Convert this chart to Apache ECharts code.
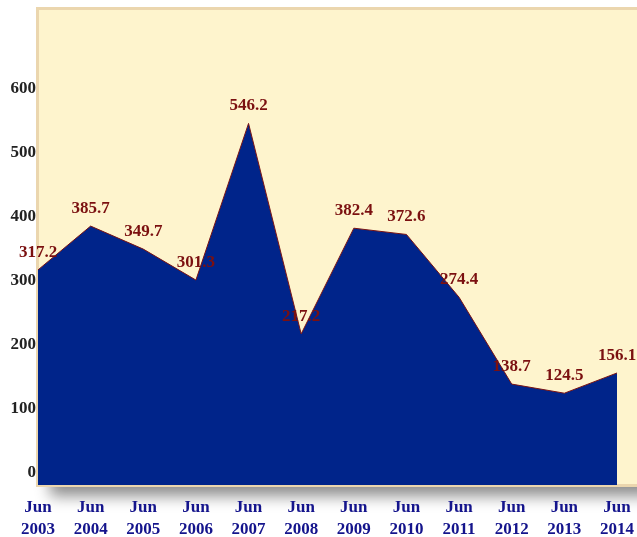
<!DOCTYPE html>
<html>
<head>
<meta charset="utf-8">
<script src="https://cdn.jsdelivr.net/npm/echarts@6/dist/echarts.min.js"></script>
<style>
html,body{margin:0;padding:0;background:#ffffff;}
#chart{width:637px;height:537px;}
</style>
</head>
<body>
<div id="chart"></div>
<script>
const categories = ['Jun\n2003','Jun\n2004','Jun\n2005','Jun\n2006','Jun\n2007','Jun\n2008','Jun\n2009','Jun\n2010','Jun\n2011','Jun\n2012','Jun\n2013','Jun\n2014'];
const values = [317.2, 385.7, 349.7, 301.3, 546.2, 217.2, 382.4, 372.6, 274.4, 138.7, 124.5, 156.1];
const yTicks = [0, 100, 200, 300, 400, 500, 600];

const chart = echarts.init(document.getElementById('chart'), null, {renderer: 'canvas'});
const serif = '"Liberation Serif", "DejaVu Serif", serif';
chart.setOption({
  animation: false,
  backgroundColor: '#ffffff',
  graphic: [{
    type: 'rect',
    z: -11,
    shape: {x: 50, y: 440, width: 620, height: 46},
    style: {
      fill: '#bbbbbb',
      shadowColor: 'rgba(0,0,0,0.45)',
      shadowBlur: 14,
      shadowOffsetY: 10
    }
  }, {
    type: 'rect',
    z: -10,
    shape: {x: 37.5, y: 8.5, width: 640, height: 477},
    style: {
      fill: '#FEF4CD',
      stroke: '#EBD6AE',
      lineWidth: 3
    }
  }],
  grid: {left: 38, right: 20, top: 9, bottom: 52, containLabel: false, outerBoundsMode: 'none'},
  xAxis: {
    type: 'category',
    data: categories,
    boundaryGap: false,
    axisLine: {show: false},
    axisTick: {show: false},
    splitLine: {show: false},
    axisLabel: {
      color: '#14148C',
      fontFamily: serif,
      fontWeight: 'bold',
      fontSize: 17,
      lineHeight: 22,
      margin: 12,
      interval: 0
    }
  },
  yAxis: {
    type: 'value',
    min: -19,
    max: 725,
    axisLine: {show: false},
    axisTick: {show: false},
    splitLine: {show: false},
    axisLabel: {
      customValues: yTicks,
      color: '#222222',
      fontFamily: serif,
      fontWeight: 'bold',
      fontSize: 17,
      margin: 2
    }
  },
  series: [{
    type: 'line',
    data: values,
    symbol: 'circle',
    symbolSize: 2,
    showSymbol: true,
    itemStyle: {color: 'rgba(0,0,0,0)'},
    lineStyle: {color: '#7A1414', width: 1},
    areaStyle: {color: '#00248A', opacity: 1, origin: 'start'},
    label: {
      show: true,
      position: 'top',
      distance: 8,
      color: '#7B1010',
      fontFamily: serif,
      fontWeight: 'bold',
      fontSize: 17
    }
  }]
});
</script>
</body>
</html>
